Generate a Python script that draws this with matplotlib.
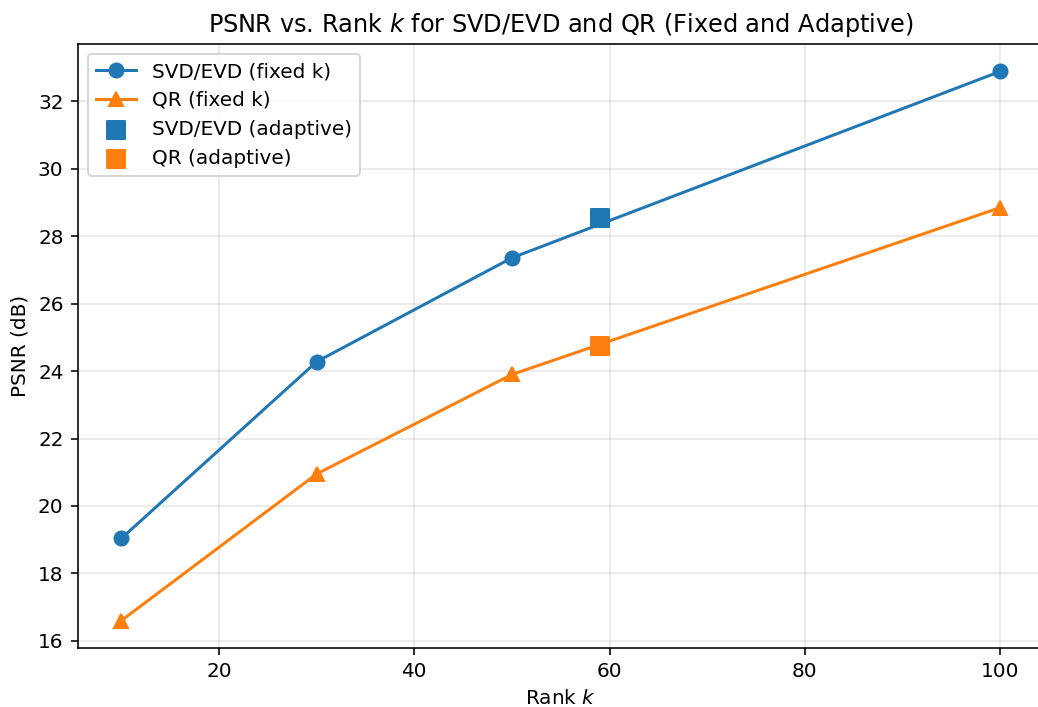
import numpy as np
import matplotlib
matplotlib.use('Agg')
import matplotlib.pyplot as plt

# Dades
ranks = [10, 30, 50, 100]
psnr_svd = [19.04, 24.28, 27.36, 32.89]
psnr_qr = [16.60, 20.95, 23.90, 28.85]
k_adapt_svd, psnr_adapt_svd = 59, 28.55
k_adapt_qr, psnr_adapt_qr = 59, 24.74

fig, ax = plt.subplots(figsize=(1038 / 144, 707 / 144), dpi=144)

ax.plot(ranks, psnr_svd, marker='o', markersize=7, label='SVD/EVD (fixed k)')
ax.plot(ranks, psnr_qr, marker='^', markersize=7, label='QR (fixed k)')
ax.scatter([k_adapt_svd], [psnr_adapt_svd], marker='s', s=75, color='C0', label='SVD/EVD (adaptive)', zorder=3)
ax.scatter([k_adapt_qr], [psnr_adapt_qr], marker='s', s=75, color='C1', label='QR (adaptive)', zorder=3)

ax.set_xlabel(r'Rank $k$')
ax.set_ylabel('PSNR (dB)')
ax.set_title(r'PSNR vs. Rank $k$ for SVD/EVD and QR (Fixed and Adaptive)')
ax.grid(True, alpha=0.3)
ax.legend(loc='upper left')

# l'eix dret queda retallat a la imatge original
fig.subplots_adjust(left=77.5 / 1038, right=1044 / 1038, top=1 - 44 / 707, bottom=1 - 648 / 707)
fig.savefig('out.png', dpi=144)
